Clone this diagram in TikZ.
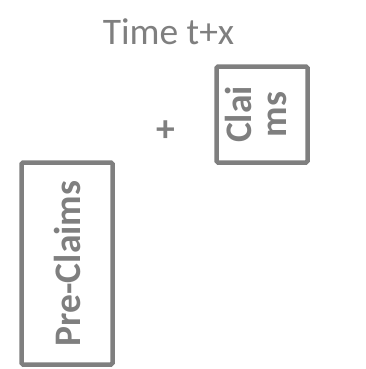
\documentclass[tikz,border=0pt]{standalone}
\usepackage{fontspec}
\setmainfont{Carlito}
\definecolor{boxgray}{HTML}{7F7F7F}
\begin{document}
\begin{tikzpicture}[x=1pt,y=1pt,
  lbl/.style={text=boxgray, inner sep=0pt, font=\fontsize{37.5}{44}\selectfont},
  vbox/.style={draw=boxgray, line width=4.5pt, rounded corners=1.5pt, rotate=90, inner sep=0pt,
    text=boxgray, align=center, font=\bfseries\fontsize{37.5}{35}\selectfont}]
\useasboundingbox (0,0) rectangle (365,-369);
\node[lbl, anchor=base] (time) at (168.5,-45) {Time t+x};
\node[lbl, font=\bfseries\fontsize{37.5}{44}\selectfont] (plus) at (165.5,-131) {+};
\node[vbox, minimum width=96pt, minimum height=91pt, text depth=12pt] (claims) at (262,-114.5) {Clai\\ms};
\node[vbox, minimum width=202pt, minimum height=91pt] (pre) at (67,-263.5) {Pre-Claims};
\end{tikzpicture}
\end{document}
